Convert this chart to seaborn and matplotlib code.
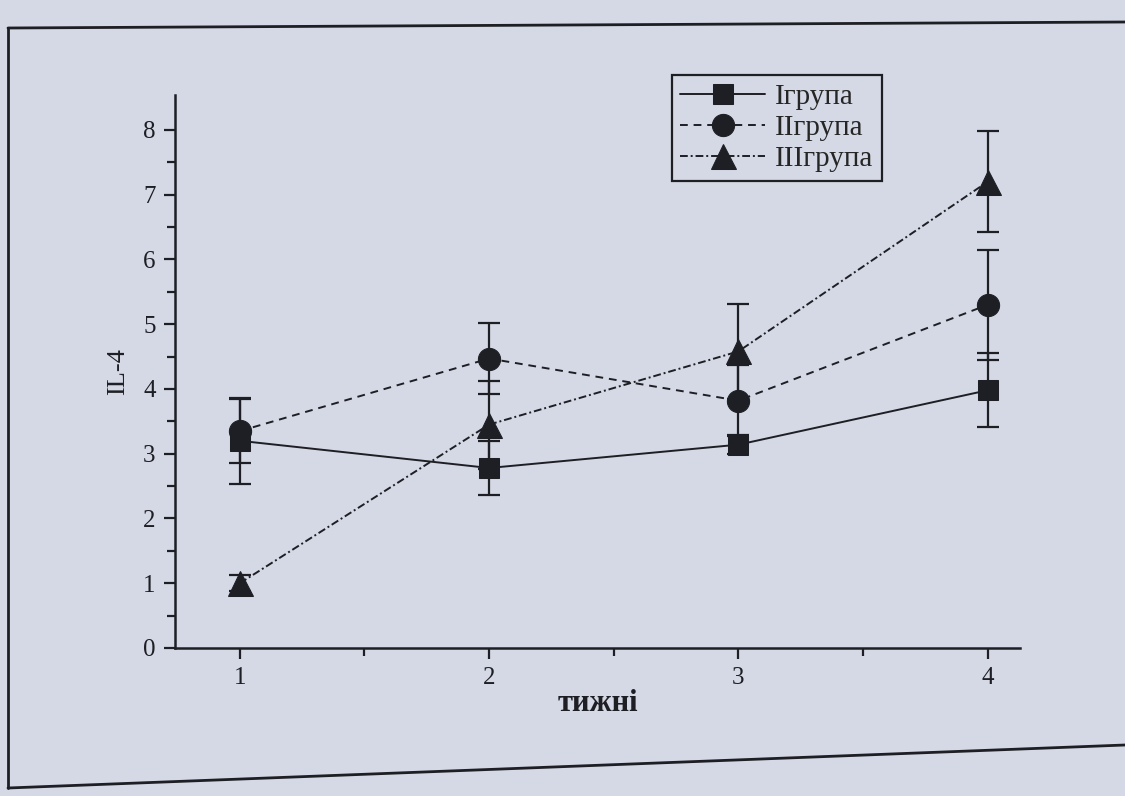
import pandas as pd
import matplotlib.pyplot as plt
import matplotlib.lines as mlines
import numpy as np
import seaborn as sns

# Дані з графіка (IL-4 по тижнях)
weeks = [1, 2, 3, 4]
group_names = ["Iгрупа", "IIгрупа", "IIIгрупа"]
group1 = [3.2, 2.78, 3.14, 3.98]
group1_err = [0.66, 0.41, 0.15, 0.57]
group2 = [3.35, 4.47, 3.82, 5.3]
group2_err = [0.5, 0.55, 0.55, 0.85]
group3 = [1.0, 3.45, 4.58, 7.2]
group3_err = [0.12, 0.68, 0.73, 0.78]

df = pd.DataFrame({
    "week": weeks * 3,
    "value": group1 + group2 + group3,
    "err": group1_err + group2_err + group3_err,
    "group": np.repeat(group_names, len(weeks)),
})

paper = "#d5d9e5"
ink = "#1e1f24"

sns.set_style("ticks")
plt.rcParams["font.family"] = ["Liberation Serif", "DejaVu Serif"]

fig = plt.figure(figsize=(11.25, 7.96), dpi=100, facecolor=paper)
ax = fig.add_axes([175 / 1125, 1 - 648 / 796, 845 / 1125, 553 / 796])
ax.set_facecolor(paper)

markers = {"Iгрупа": "s", "IIгрупа": "o", "IIIгрупа": "^"}
msizes = {"Iгрупа": 15, "IIгрупа": 16, "IIIгрупа": 18}
dashes = {"Iгрупа": "", "IIгрупа": (4, 3), "IIIгрупа": (4, 1.5, 1, 1.5)}

# лінії з маркерами
for name in group_names:
    sub = df[df["group"] == name]
    sns.lineplot(data=sub, x="week", y="value", ax=ax, color=ink,
                 marker=markers[name], markersize=msizes[name],
                 markeredgecolor=ink, markerfacecolor=ink,
                 linewidth=1.4, label=name, errorbar=None)
    if dashes[name]:
        ax.lines[-1].set_dashes(dashes[name])
    # вуса
    ax.errorbar(sub["week"], sub["value"], yerr=sub["err"], fmt="none",
                ecolor=ink, elinewidth=1.6, capsize=8, capthick=1.6, zorder=1)

ax.set_xlim(0.74, 4.13)
ax.set_ylim(0, 8.54)
ax.set_xticks([1, 2, 3, 4])
ax.set_xticks([1.5, 2.5, 3.5], minor=True)
ax.set_yticks(range(0, 9))
ax.set_yticks(np.arange(0.5, 8.5, 1), minor=True)
ax.tick_params(axis="both", which="major", length=8, width=1.6, labelsize=18,
               colors=ink, pad=6)
ax.tick_params(axis="both", which="minor", length=6, width=1.6, colors=ink)

sns.despine(ax=ax)
for side in ["left", "bottom"]:
    ax.spines[side].set_linewidth(1.8)
    ax.spines[side].set_color(ink)

ax.set_xlabel("тижні", fontsize=22, fontweight="semibold", color=ink, labelpad=0)
ax.set_ylabel("IL-4", fontsize=19, color=ink, labelpad=10)

# легенда
handles, labels = ax.get_legend_handles_labels()
leg = ax.legend(handles, labels, loc="upper right", bbox_to_anchor=(0.837, 1.036),
                borderaxespad=0, fontsize=21, frameon=True, fancybox=False,
                edgecolor=ink, facecolor=paper, framealpha=1, handlelength=2.9,
                borderpad=0.3, labelspacing=0.15, handletextpad=0.35)
leg.get_frame().set_linewidth(1.6)

# рамка навколо рисунка
fig.add_artist(mlines.Line2D([8 / 1125, 8 / 1125], [1 - 28 / 796, 1 - 788 / 796],
                             color=ink, linewidth=2, transform=fig.transFigure))
fig.add_artist(mlines.Line2D([8 / 1125, 1.0], [1 - 28 / 796, 1 - 22 / 796],
                             color=ink, linewidth=2, transform=fig.transFigure))
fig.add_artist(mlines.Line2D([8 / 1125, 1.0], [1 - 788 / 796, 1 - 745 / 796],
                             color=ink, linewidth=2, transform=fig.transFigure))

plt.savefig("out.png", dpi=100, facecolor=paper)
